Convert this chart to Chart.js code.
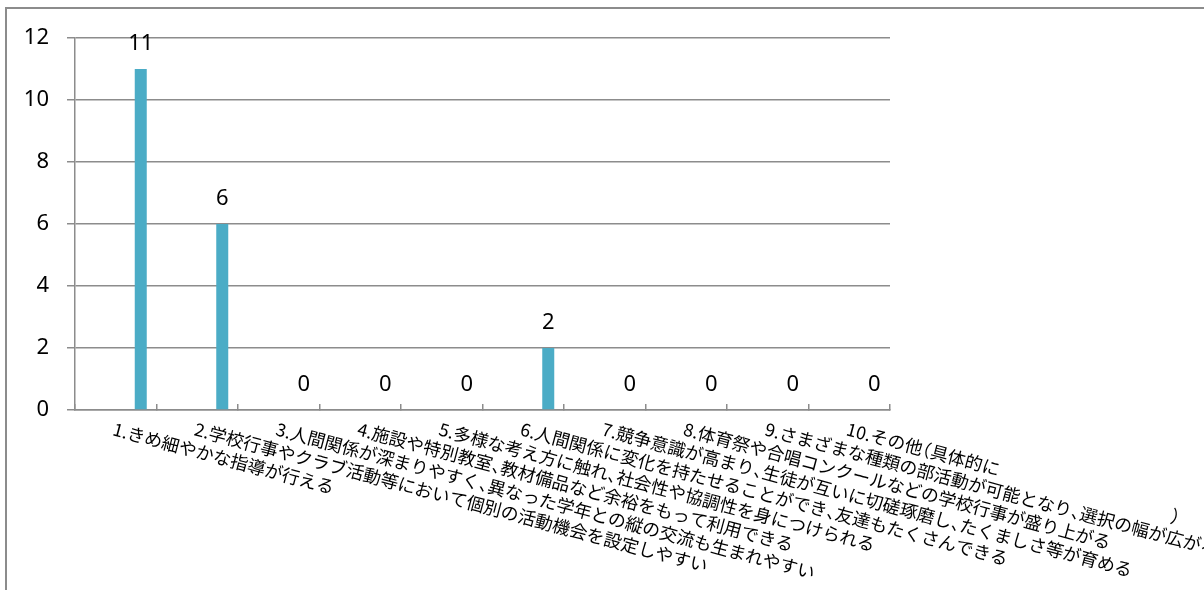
<!DOCTYPE html>
<html>
<head>
<meta charset="utf-8">
<script src="https://cdn.jsdelivr.net/npm/chart.js@4/dist/chart.umd.min.js"></script>
<style>
  html, body { margin: 0; padding: 0; background: #fff; overflow: hidden; }
  #wrap { position: relative; width: 1204px; height: 590px; }
  #frame { position: absolute; left: 5px; top: 7px; width: 1400px; height: 800px;
           border-left: 2px solid #8c8c8c; border-top: 2px solid #8c8c8c; }
  canvas { position: absolute; left: 0; top: 0; }
</style>
</head>
<body>
<div id="wrap">
  <div id="frame"></div>
  <canvas id="myChart" width="1204" height="590"></canvas>
</div>
<script>
const categories = [
  "1.きめ細やかな指導が行える",
  "2.学校行事やクラブ活動等において個別の活動機会を設定しやすい",
  "3.人間関係が深まりやすく、異なった学年との縦の交流も生まれやすい",
  "4.施設や特別教室、教材備品など余裕をもって利用できる",
  "5.多様な考え方に触れ、社会性や協調性を身につけられる",
  "6.人間関係に変化を持たせることができ、友達もたくさんできる",
  "7.競争意識が高まり、生徒が互いに切磋琢磨し、たくましさ等が育める",
  "8.体育祭や合唱コンクールなどの学校行事が盛り上がる",
  "9.さまざまな種類の部活動が可能となり、選択の幅が広がる",
  "10.その他（具体的に　　　　　　　　　　）"
];
const counts = [11, 6, 0, 0, 0, 2, 0, 0, 0, 0];
const yMax = 12;
const yStep = 2;

// Excel left the first series slots empty, so the bars sit right of centre
const emptySeries = categories.map(() => null);

const gridGrey = '#8c8c8c';
const barColor = '#4BACC6';
const labelSize = 17.8;

const valueLabels = {
  id: 'valueLabels',
  afterDatasetsDraw(chart) {
    const ctx = chart.ctx;
    const meta = chart.getDatasetMeta(chart.data.datasets.length - 1);
    ctx.save();
    ctx.font = '22px "Noto Sans"';
    ctx.fillStyle = '#000';
    ctx.textAlign = 'center';
    ctx.textBaseline = 'alphabetic';
    meta.data.forEach((bar, i) => {
      ctx.fillText(String(counts[i]), bar.x, bar.y - 19);
    });
    ctx.restore();
  }
};

// the original font sets 、（ ） at half width, so draw glyph by glyph
function drawProportional(ctx, txt) {
  let x = 0;
  for (const ch of txt) {
    if (ch === '、' || ch === '）') {
      ctx.fillText(ch, x, 0);
      x += labelSize * 0.5;
    } else if (ch === '（') {
      ctx.fillText(ch, x - labelSize * 0.5, 0);
      x += labelSize * 0.5;
    } else {
      ctx.fillText(ch, x, 0);
      x += ctx.measureText(ch).width;
    }
  }
}

const slantedLabels = {
  id: 'slantedLabels',
  afterDraw(chart) {
    const ctx = chart.ctx;
    const xs = chart.scales.x;
    ctx.save();
    ctx.font = labelSize + 'px "Noto Sans CJK JP"';
    ctx.fillStyle = '#000';
    ctx.textAlign = 'left';
    ctx.textBaseline = 'top';
    categories.forEach((txt, i) => {
      ctx.save();
      ctx.translate(xs.getPixelForValue(i), chart.chartArea.bottom + 10);
      ctx.rotate(15 * Math.PI / 180);
      drawProportional(ctx, txt);
      ctx.restore();
    });
    ctx.restore();
  }
};

const datasets = [];
for (let k = 0; k < 4; k++) {
  datasets.push({ data: emptySeries, backgroundColor: barColor });
}
datasets.push({ data: counts, backgroundColor: barColor });

new Chart(document.getElementById('myChart').getContext('2d'), {
  type: 'bar',
  data: { labels: categories, datasets: datasets },
  options: {
    responsive: false,
    animation: false,
    events: [],
    categoryPercentage: 0.767,
    barPercentage: 0.96,
    layout: { padding: { left: 0, top: 38, right: 314, bottom: 0 } },
    plugins: { legend: { display: false }, tooltip: { enabled: false } },
    scales: {
      x: {
        offset: true,
        grid: {
          offset: true,
          drawOnChartArea: false,
          drawTicks: true,
          tickLength: -6,
          color: gridGrey,
          lineWidth: 1.5
        },
        border: { color: gridGrey, width: 1.5 },
        ticks: { display: false },
        afterFit(scale) { scale.height = 180; }
      },
      y: {
        min: 0,
        max: yMax,
        ticks: {
          stepSize: yStep,
          padding: 18,
          color: '#000',
          font: { family: '"Noto Sans"', size: 22 }
        },
        grid: { color: gridGrey, lineWidth: 1.5, tickLength: 8 },
        border: { color: gridGrey, width: 1.5 },
        afterFit(scale) { scale.width = 75; }
      }
    }
  },
  plugins: [valueLabels, slantedLabels]
});
</script>
</body>
</html>
